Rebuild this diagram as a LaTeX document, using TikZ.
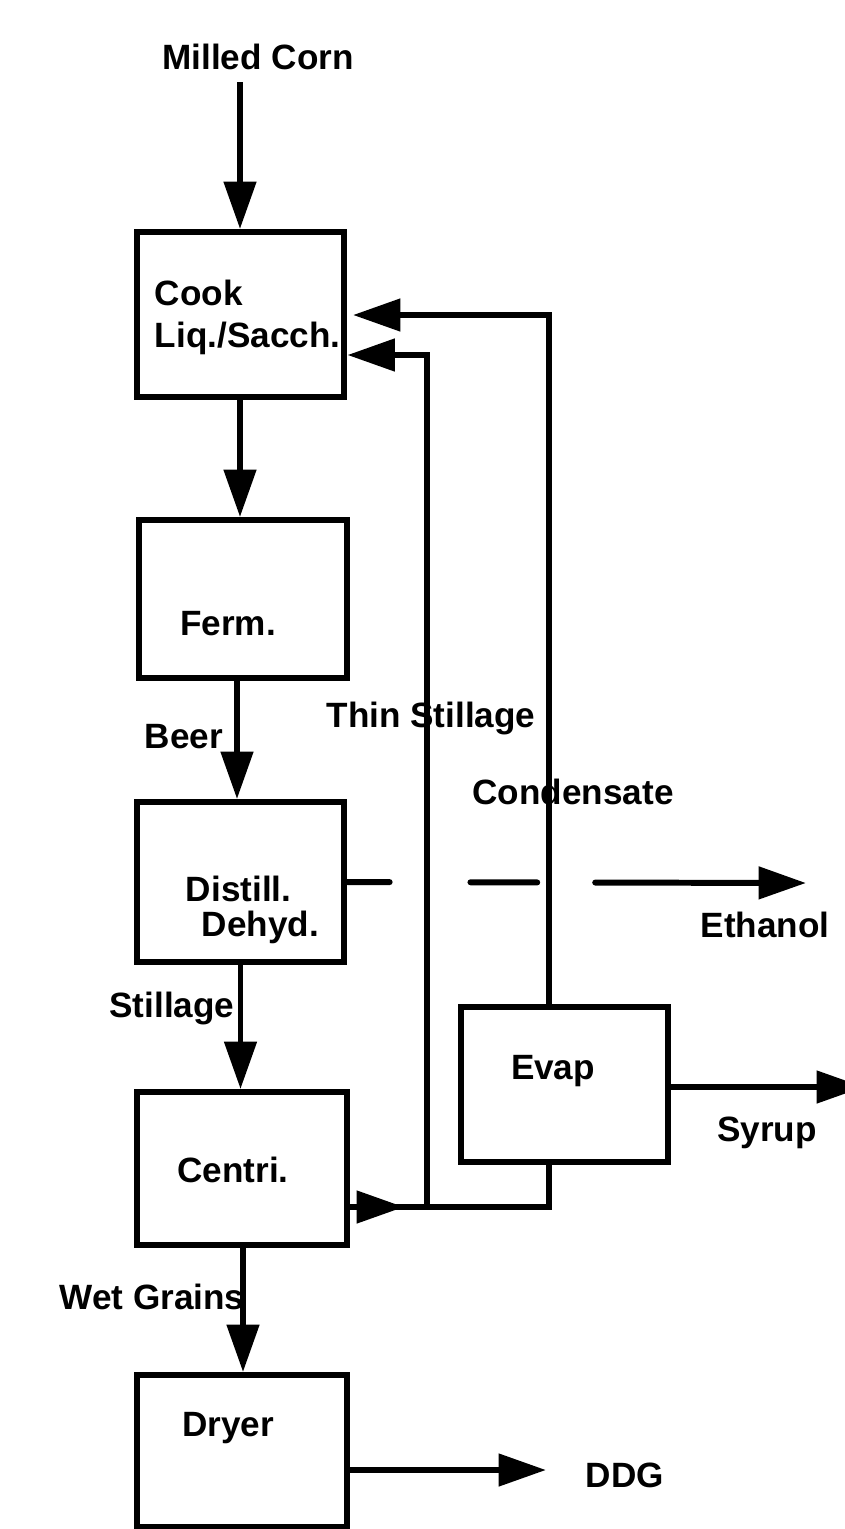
\documentclass[tikz,border=0pt]{standalone}
\usepackage{fontspec}
\setmainfont{Liberation Sans}
\usetikzlibrary{arrows.meta}
\begin{document}
\begin{tikzpicture}[x=0.02cm,y=-0.02cm,line width=3.4pt,
  flow/.style={-{Triangle[length=27pt,width=18pt]}},
  unit/.style={draw,inner sep=0pt,minimum width=4.16cm},
  tag/.style={font=\bfseries\fontsize{20}{24}\selectfont,inner sep=0pt}]
\useasboundingbox[fill=white] (0,0) rectangle (845,1529);
% process units
\node[unit,minimum height=3.3cm] (cook) at (240.5,314.5) {};
\node[unit,minimum height=3.16cm] (ferm) at (243,599) {};
\node[unit,minimum height=3.2cm] (distill) at (240.5,882) {};
\node[unit,minimum height=3.06cm,minimum width=4.2cm] (centri) at (242,1168.5) {};
\node[unit,minimum height=3.1cm] (evap) at (564.5,1084.5) {};
\node[unit,minimum height=3.04cm,minimum width=4.2cm] (dryer) at (242,1451) {};
% texts
\node[tag,align=left,anchor=west] (cooktxt) at (152,317) {Cook\\Liq./Sacch.};
\node[tag] (fermtxt) at (228,624) {Ferm.};
\node[tag,align=left,anchor=west] (distilltxt) at (183,910) {Distill.\\[-4.5pt]\hspace*{9pt}Dehyd.};
\node[tag] (centritxt) at (233,1170) {Centri.};
\node[tag] (evaptxt) at (553,1071) {Evap};
\node[tag] (dryertxt) at (228,1428) {Dryer};
\node[tag] (corn) at (258,57) {Milled Corn};
\node[tag] (beer) at (184,737) {Beer};
\node[tag] (thin) at (431,718) {Thin Stillage};
\node[tag] (cond) at (573,792) {Condensate};
\node[tag] (ethanol) at (765,925) {Ethanol};
\node[tag] (stillage) at (172,1008) {Stillage};
\node[tag] (syrup) at (767,1133) {Syrup};
\node[tag] (wet) at (152,1297) {Wet Grains};
\node[tag] (ddg) at (625,1475) {DDG};
% free ends and bends
\coordinate (cornin) at (240,82);
\coordinate (ethend) at (806,883);
\coordinate (syrupend) at (864,1087);
\coordinate (ddgend) at (546,1470);
\coordinate (tee) at (427,1207);
\coordinate (centritip) at (404,1207);
\coordinate (evapfoot) at (549,1207);
\coordinate (thinturn) at (427,355);
\coordinate (condturn) at (549,315);
\coordinate (condtip) at (353,315);
% main line
\draw[flow] (cornin) -- (cornin |- cook.north);
\draw[flow] (cook.south -| cornin) -- (cornin |- ferm.north);
\draw[flow] (ferm.south -| 237,0) -- (237,0 |- distill.north);
\draw[flow] (distill.south) -- (distill.south |- centri.north);
\draw[flow] (centri.south -| 243,0) -- (243,0 |- dryer.north);
% products
\draw[flow,line cap=round,dash pattern=on 24pt off 46pt on 38pt off 33pt on 200pt] (distill.east) -- (ethend);
\draw[flow] (evap.east |- syrupend) -- (syrupend);
\draw[flow] (dryer.east |- ddgend) -- (ddgend);
% recycle streams
\draw (centri.east |- tee) -- (evapfoot) -- (evapfoot |- evap.south);
\draw[flow] (centri.east |- tee) -- (centritip);
\draw[flow] (tee) -- (thinturn) -- (thinturn -| cook.east);
\draw[flow] (evapfoot |- evap.north) -- (condturn) -- (condtip);
\end{tikzpicture}
\end{document}
